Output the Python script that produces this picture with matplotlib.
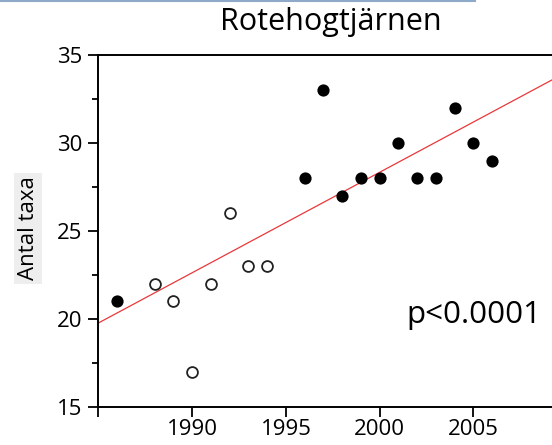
import matplotlib
matplotlib.use("Agg")
import matplotlib.pyplot as plt
from matplotlib.lines import Line2D

plt.rcParams["font.family"] = ["Open Sans", "DejaVu Sans"]

# DATA

filled_years = [1986, 1996, 1997, 1998, 1999, 2000, 2001, 2002, 2003, 2004, 2005, 2006]
filled_taxa = [21, 28, 33, 27, 28, 28, 30, 28, 28, 32, 30, 29]

open_years = [1988, 1989, 1990, 1991, 1992, 1993, 1994]
open_taxa = [22, 21, 17, 22, 26, 23, 23]

# regression line ends
fit_years = [1985, 2010]
fit_taxa = [19.77, 34.05]

x_ticks = [1985, 1990, 1995, 2000, 2005, 2010]
x_labels = ["", "1990", "1995", "2000", "2005", ""]
y_ticks = [15, 20, 25, 30, 35]


fig = plt.figure(figsize=(5.52, 4.45), dpi=100)
ax = fig.add_axes([0.1781, 0.0854, 0.8496, 0.7910])

ax.plot(fit_years, fit_taxa, color="#e8383a", lw=0.9, zorder=2)
ax.plot(filled_years, filled_taxa, "o", color="black", ms=8.8, mew=0, zorder=3)
ax.plot(open_years, open_taxa, "o", mfc="white", mec="#222222", ms=7.8, mew=1.3, zorder=3)

ax.set_xlim(1985, 2010)
ax.set_ylim(15, 35)
ax.set_xticks(x_ticks)
ax.set_xticklabels(x_labels)
ax.set_yticks(y_ticks)
ax.set_yticks([17.5, 22.5, 27.5, 32.5], minor=True)

for s in ax.spines.values():
    s.set_linewidth(1.4)
ax.tick_params(axis="both", which="major", length=7.5, width=1.3, labelsize=16, pad=4)
ax.tick_params(axis="x", which="major", pad=1)
ax.tick_params(axis="y", which="minor", length=4, width=1.3)

ax.text(2001.4, 19.8, "p<0.0001", fontsize=22.5, ha="left", va="baseline")

fig.text(0.600, 0.933, "Rotehogtjärnen", fontsize=22, ha="center", va="baseline")
fig.text(0.051, 0.487, "Antal taxa", fontsize=16, rotation=90, ha="center", va="center",
         bbox=dict(boxstyle="square,pad=0.15", fc="#eeeeee", ec="none"))

# light blue strip at the very top (screenshot edge)
fig.add_artist(Line2D([0, 0.86], [0.998, 0.998], transform=fig.transFigure,
                      color="#8fa9c9", lw=1.5))

fig.savefig("out.png", dpi=100)
